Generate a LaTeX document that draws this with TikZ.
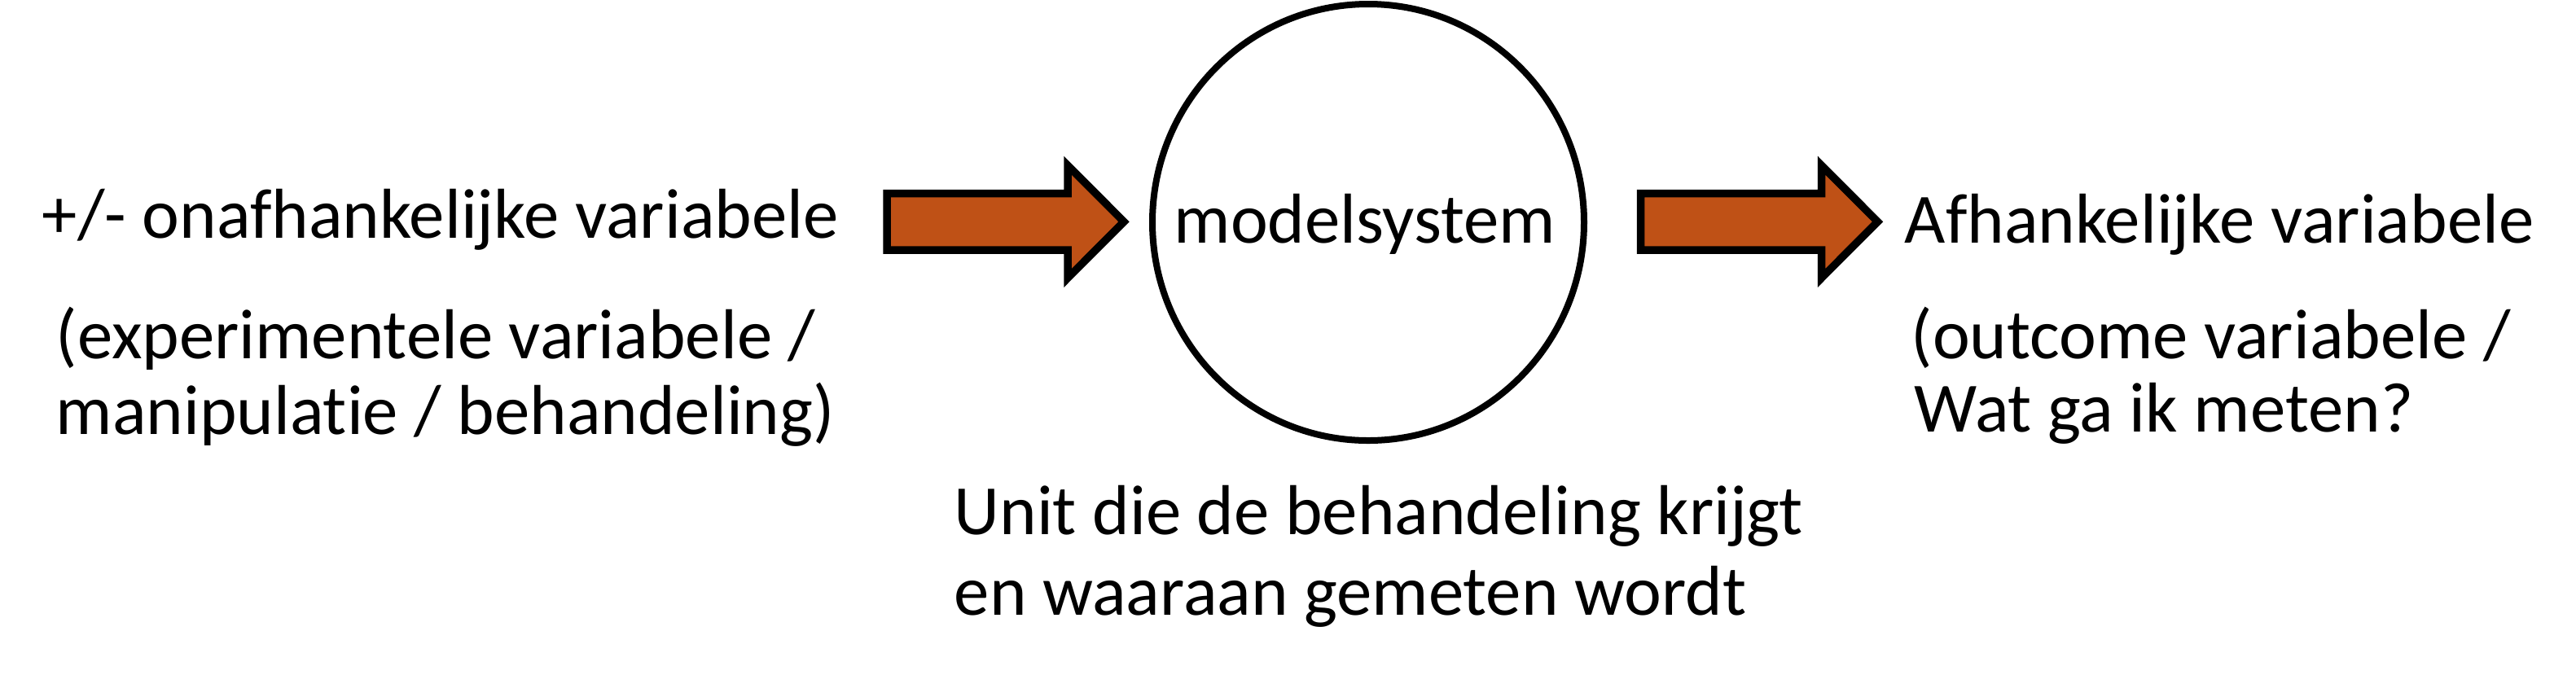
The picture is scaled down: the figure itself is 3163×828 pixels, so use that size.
\documentclass[tikz,border=0pt]{standalone}
\usepackage{fontspec}
\setmainfont[Ligatures=NoCommon]{Carlito}
\definecolor{arrowfill}{RGB}{191,81,22}
\begin{document}
\begin{tikzpicture}[x=0.25pt,y=-0.25pt,
  txt/.style={inner sep=0pt, anchor=base west, font=\fontsize{21.7}{25}\selectfont},
  blockarrow/.style={draw=black, line width=2.375pt, fill=arrowfill, line join=miter, miter limit=10},
  ring/.style={draw=black, line width=2pt, fill=white}]
\useasboundingbox (0,0) rectangle (3163,828);
% central model system
\draw[ring] (1680,273) ellipse [x radius=66.25pt, y radius=67pt];
\node[txt, anchor=base] (ms) at (1676,298) {modelsystem};
% block arrows
\draw[blockarrow] (1089,237.5) -- (1311,237.5) -- (1311,203) -- (1380,272.3) -- (1311,341.5) -- (1311,307) -- (1089,307) -- cycle;
\draw[blockarrow] (2014.5,237.5) -- (2236.5,237.5) -- (2236.5,203) -- (2305.5,272.3) -- (2236.5,341.5) -- (2236.5,307) -- (2014.5,307) -- cycle;
% left texts
\node[txt] (iv1) at (51,292.5) {+/- onafhankelijke variabele};
\node[txt] (iv2) at (68,440.5) {(experimentele variabele /};
\node[txt] (iv3) at (68,533.3) {manipulatie / behandeling)};
% right texts
\node[txt] (dv1) at (2338,298.3) {Afhankelijke variabele};
\node[txt] (dv2) at (2346,440) {(outcome variabele /};
\node[txt] (dv3) at (2350,530) {Wat ga ik meten?};
% bottom texts
\node[txt] (u1) at (1171,656) {Unit die de behandeling krijgt};
\node[txt] (u2) at (1171,755) {en waaraan gemeten wordt};
\end{tikzpicture}
\end{document}
